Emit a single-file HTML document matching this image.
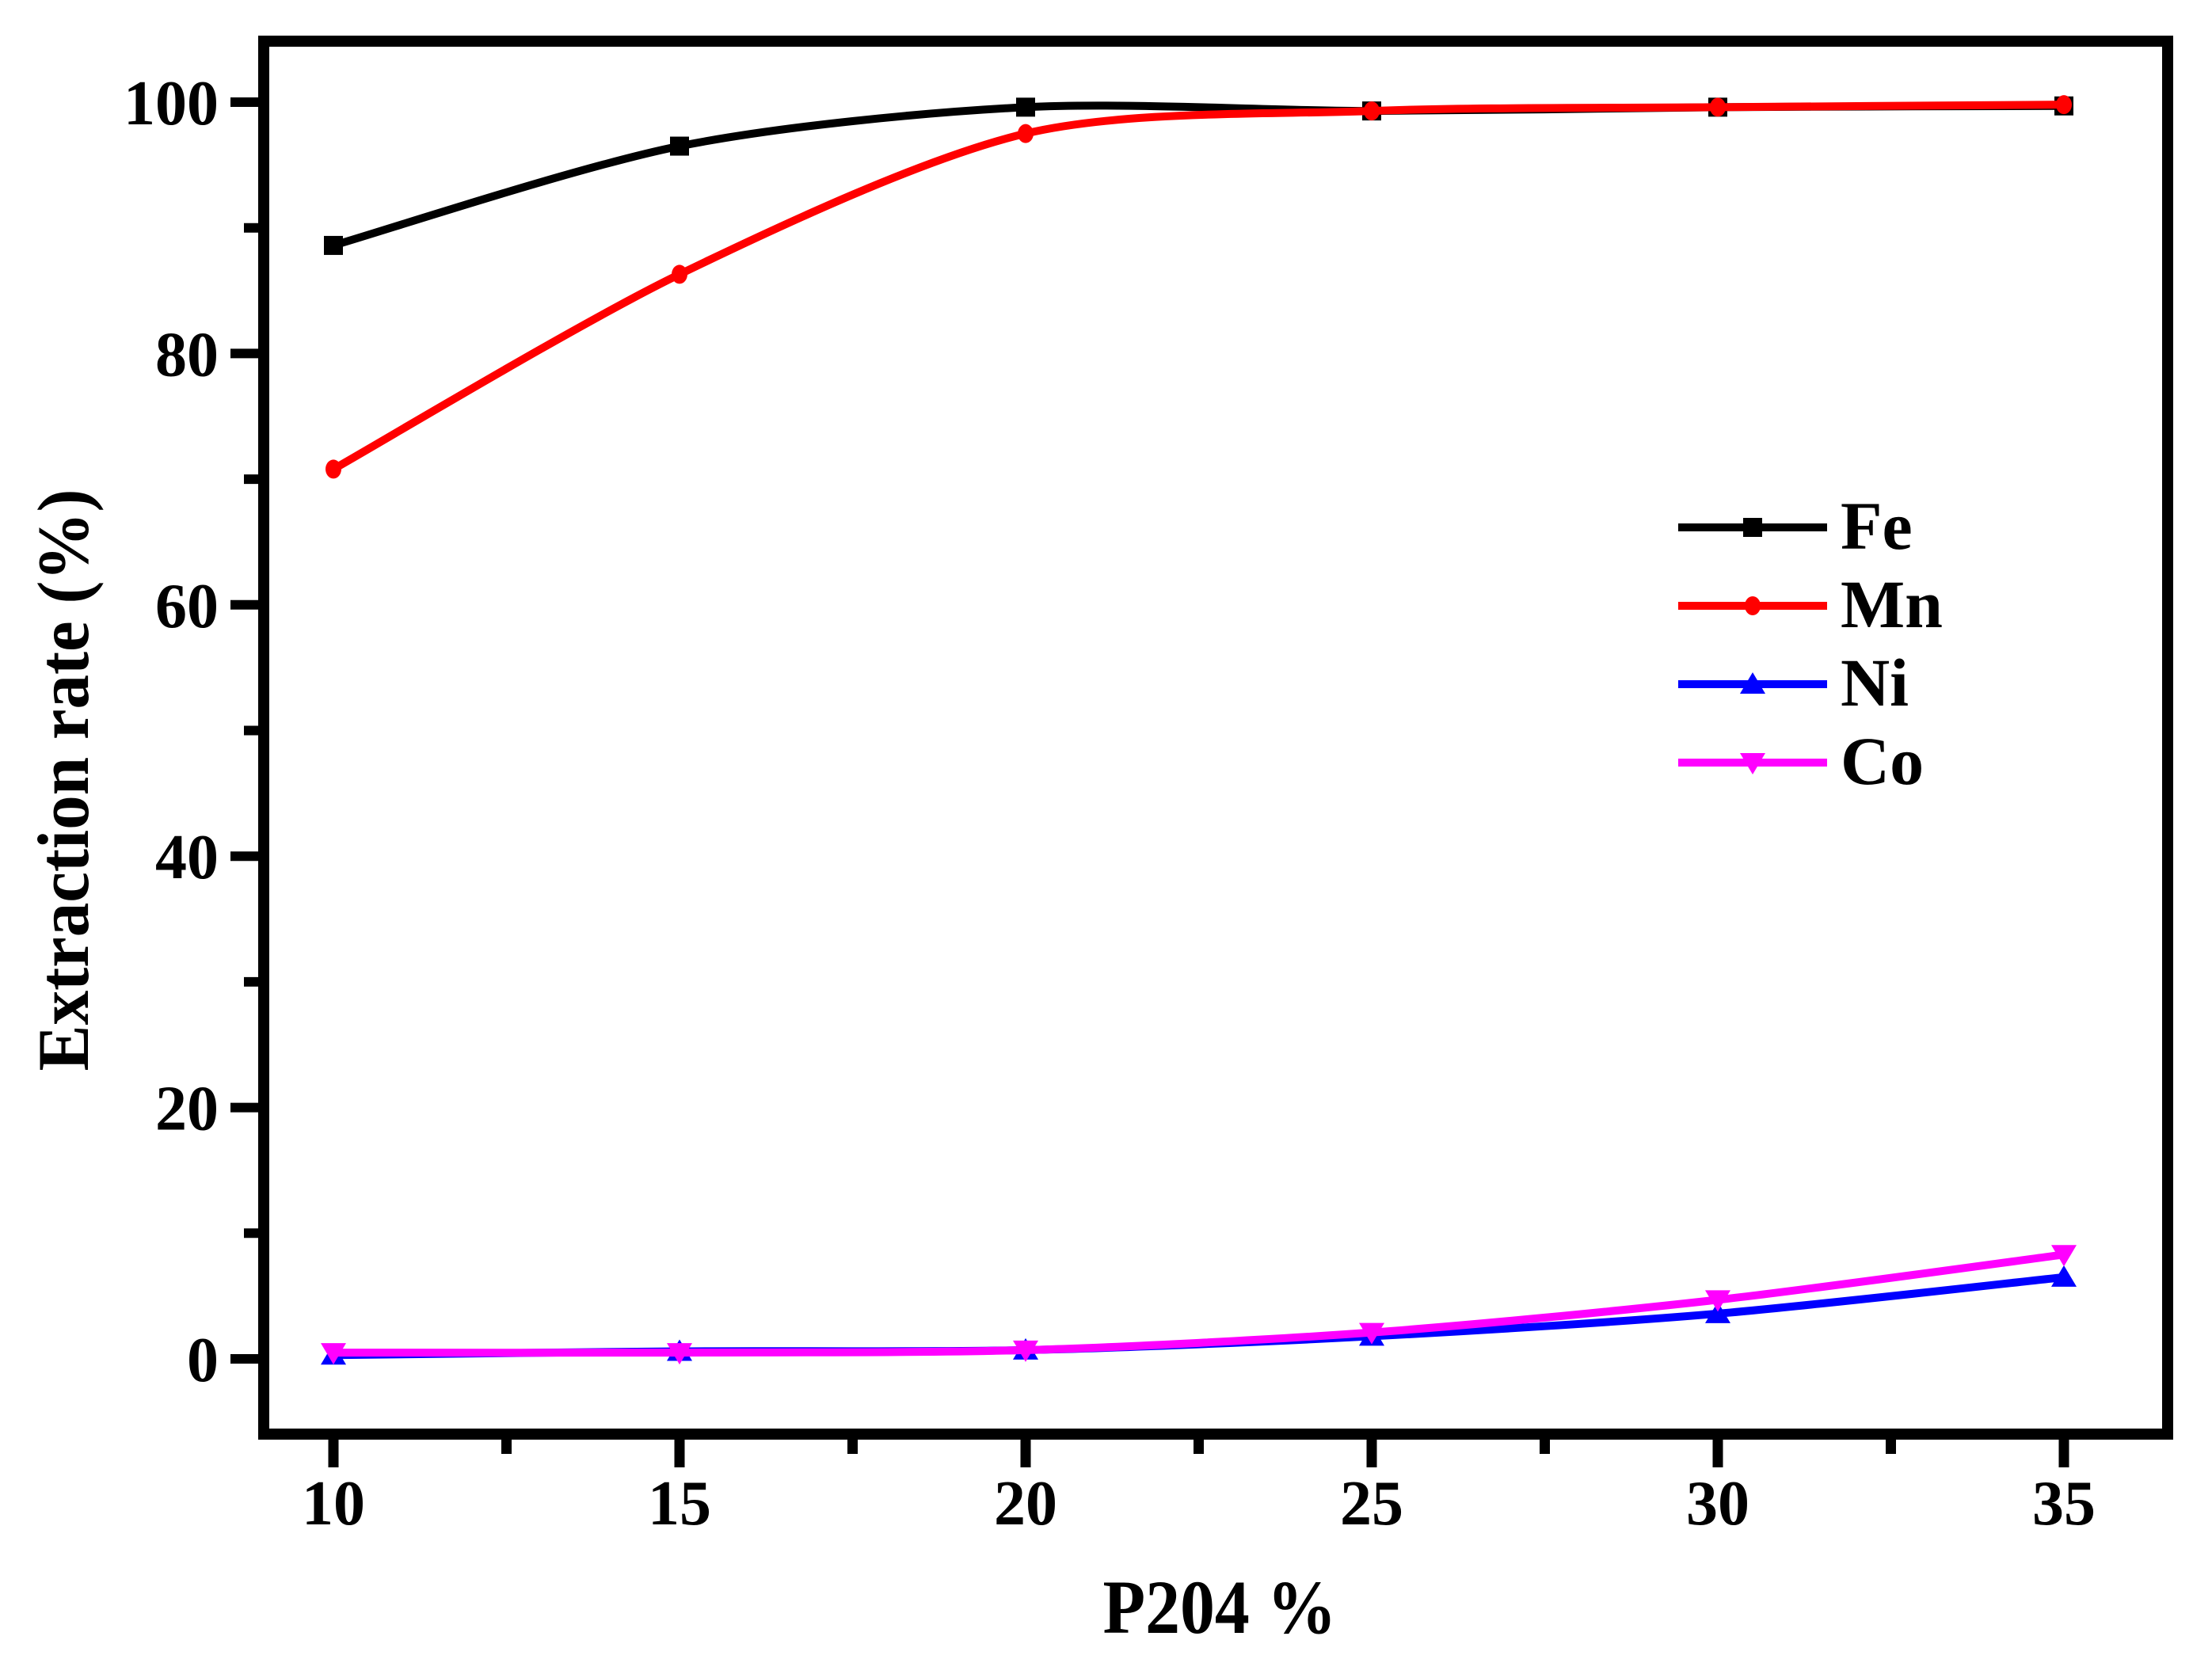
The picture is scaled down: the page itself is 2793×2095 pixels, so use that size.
<!DOCTYPE html>
<html>
<head>
<meta charset="utf-8">
<style>
  html, body { margin: 0; padding: 0; background: #fff; }
  svg { display: block; }
  text { font-family: "Liberation Serif", "Times New Roman", serif; font-weight: bold; fill: #000; }
</style>
</head>
<body>
<svg id="chart" width="2793" height="2095" viewBox="0 0 2793 2095" xmlns="http://www.w3.org/2000/svg">
  <rect x="0" y="0" width="2793" height="2095" fill="#fff"/>
  <g id="ticks"></g>
  <g id="series"></g>
  <rect x="333" y="52" width="2404" height="1759" fill="none" stroke="#000" stroke-width="14"/>
  <text x="111" y="985" font-size="92" text-anchor="middle" transform="rotate(-90 111 985)" textLength="735" lengthAdjust="spacingAndGlyphs">Extraction rate (%)</text>
  <text x="1540" y="2062" font-size="96" text-anchor="middle" textLength="295" lengthAdjust="spacingAndGlyphs">P204 %</text>
  <g id="legend"></g>
</svg>
<script>
const xCategories = [10, 15, 20, 25, 30, 35];
const feValues = [88.6, 96.5, 99.6, 99.3, 99.6, 99.7];
const mnValues = [70.8, 86.3, 97.5, 99.3, 99.6, 99.8];
const niValues = [0.3, 0.6, 0.7, 1.8, 3.6, 6.5];
const coValues = [0.5, 0.5, 0.7, 2.1, 4.7, 8.3];
const yTickLabels = [0, 20, 40, 60, 80, 100];
const yMinorTicks = [10, 30, 50, 70, 90];
const xTickLabels = [10, 15, 20, 25, 30, 35];
const xMinorTicks = [12.5, 17.5, 22.5, 27.5, 32.5];
const seriesNames = ["Fe", "Mn", "Ni", "Co"];

const NS = "http://www.w3.org/2000/svg";
function xs(v) { return 421 + (v - 10) * 87.4; }
function ys(v) { return 1716 - v * 15.87; }
function mk(tag, attrs, parent) {
  const e = document.createElementNS(NS, tag);
  for (const k in attrs) e.setAttribute(k, attrs[k]);
  parent.appendChild(e);
  return e;
}
const ticks = document.getElementById('ticks');
yTickLabels.forEach(v => {
  const t = mk('line', {x1: 291, x2: 333, y1: ys(v), y2: ys(v), stroke: '#000', 'stroke-width': 12}, ticks);
  
  
  const l = mk('text', {x: 276, y: ys(v) + 28, 'font-size': 80, 'text-anchor': 'end'}, ticks);
  l.textContent = v;
  
  
});
yMinorTicks.forEach(v => {
  const t = mk('line', {x1: 308, x2: 333, y1: ys(v), y2: ys(v), stroke: '#000', 'stroke-width': 12}, ticks);
  
  
});
xTickLabels.forEach(v => {
  const t = mk('line', {x1: xs(v), x2: xs(v), y1: 1811, y2: 1853, stroke: '#000', 'stroke-width': 13}, ticks);
  
  
  const l = mk('text', {x: xs(v), y: 1925, 'font-size': 80, 'text-anchor': 'middle'}, ticks);
  l.textContent = v;
  
  
});
xMinorTicks.forEach(v => {
  const t = mk('line', {x1: xs(v), x2: xs(v), y1: 1811, y2: 1836, stroke: '#000', 'stroke-width': 13}, ticks);
  
  
});

function smoothPath(pts) {
  let d = `M${pts[0][0]},${pts[0][1]}`;
  const k = 7;
  for (let i = 0; i < pts.length - 1; i++) {
    const p0 = pts[i - 1] || pts[i], p1 = pts[i], p2 = pts[i + 1], p3 = pts[i + 2] || p2;
    const c1x = p1[0] + (p2[0] - p0[0]) / k, c1y = p1[1] + (p2[1] - p0[1]) / k;
    const c2x = p2[0] - (p3[0] - p1[0]) / k, c2y = p2[1] - (p3[1] - p1[1]) / k;
    d += ` C${c1x},${c1y} ${c2x},${c2y} ${p2[0]},${p2[1]}`;
  }
  return d;
}
function marker(type, cx, cy, color, parent) {
  let e;
  if (type === 'square') e = mk('rect', {x: cx - 12, y: cy - 12, width: 24, height: 24, fill: color}, parent);
  else if (type === 'circle') e = mk('ellipse', {cx: cx, cy: cy, rx: 10, ry: 12, fill: color}, parent);
  else if (type === 'up') e = mk('polygon', {points: `${cx},${cy - 15} ${cx - 16},${cy + 12} ${cx + 16},${cy + 12}`, fill: color}, parent);
  else e = mk('polygon', {points: `${cx},${cy + 15} ${cx - 16},${cy - 12} ${cx + 16},${cy - 12}`, fill: color}, parent);
  return e;
}
const seriesDefs = [
  {vals: feValues, color: '#000000', m: 'square', name: 'fe'},
  {vals: mnValues, color: '#ff0000', m: 'circle', name: 'mn'},
  {vals: niValues, color: '#0000ff', m: 'up', name: 'ni'},
  {vals: coValues, color: '#ff00ff', m: 'down', name: 'co'}
];
const sg = document.getElementById('series');
seriesDefs.forEach(s => {
  const pts = s.vals.map((v, i) => [xs(xCategories[i]), ys(v)]);
  const p = mk('path', {d: smoothPath(pts), fill: 'none', stroke: s.color, 'stroke-width': 10}, sg);
  
  
  pts.forEach(pt => {
    const m = marker(s.m, pt[0], pt[1], s.color, sg);
    
    
  });
});

const lg = document.getElementById('legend');
const legendY = [666, 765, 864, 963];
seriesDefs.forEach((s, i) => {
  const y = legendY[i];
  const l = mk('line', {x1: 2119, x2: 2307, y1: y, y2: y, stroke: s.color, 'stroke-width': 10}, lg);
  
  
  const m = marker(s.m, 2213, y, s.color, lg);
  
  
  const t = mk('text', {x: 2324, y: y + 27, 'font-size': 86}, lg);
  t.textContent = seriesNames[i];
  
  
});
</script>
</body>
</html>
